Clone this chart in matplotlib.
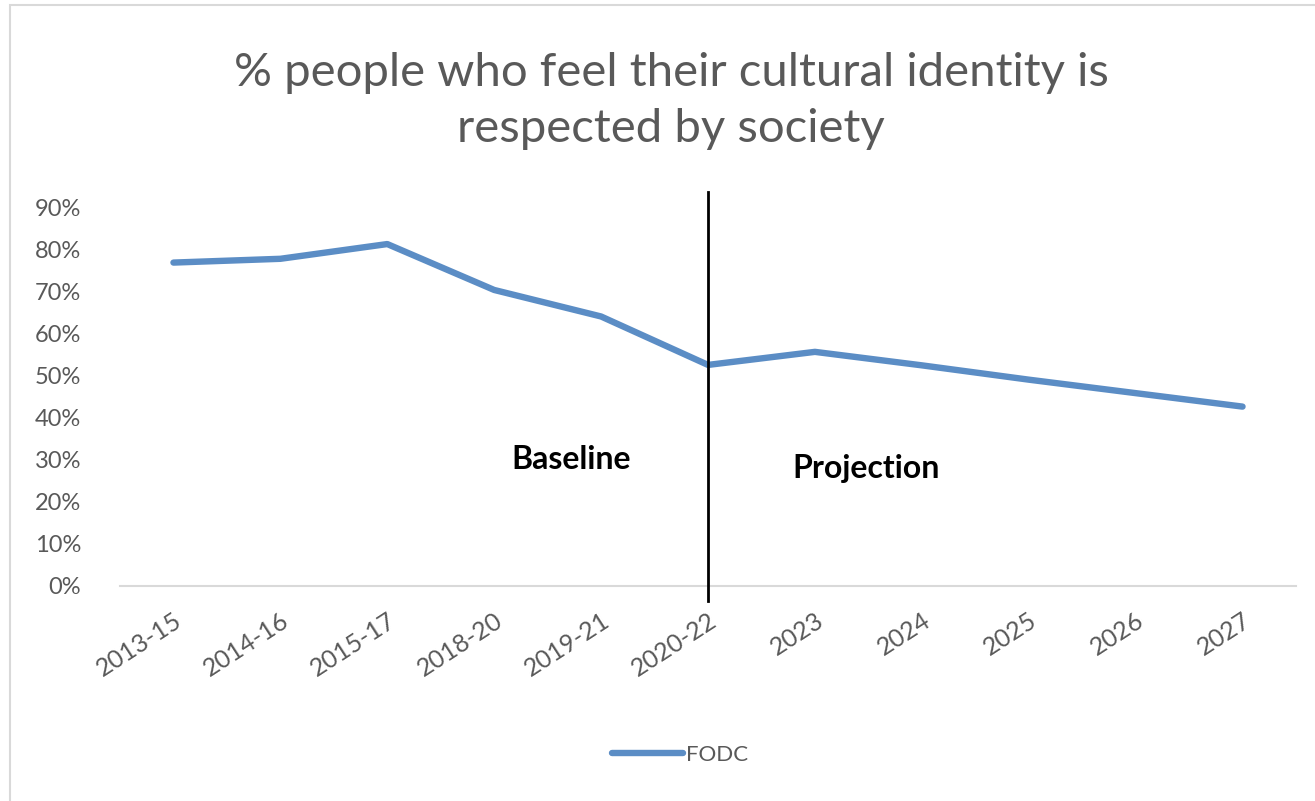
import matplotlib
matplotlib.use("Agg")
import matplotlib.pyplot as plt
from matplotlib.patches import Rectangle

categories = ["2013-15", "2014-16", "2015-17", "2018-20", "2019-21", "2020-22",
              "2023", "2024", "2025", "2026", "2027"]
fodc = [0.768, 0.777, 0.812, 0.703, 0.640, 0.525, 0.556, 0.524, 0.490, 0.458, 0.426]
yticks = [0.0, 0.1, 0.2, 0.3, 0.4, 0.5, 0.6, 0.7, 0.8, 0.9]
ytick_labels = ["0%", "10%", "20%", "30%", "40%", "50%", "60%", "70%", "80%", "90%"]
divider_category = "2020-22"

plt.rcParams['font.family'] = ['Lato', 'DejaVu Sans']
grey = "#595959"
blue = "#5B8DC5"

fig = plt.figure(figsize=(13.15, 8.01), dpi=100)
fig.patch.set_facecolor("white")
fig.patches.append(Rectangle((10/1315, -0.01), 1.02, 1 - 5/801 + 0.01, transform=fig.transFigure,
                             fill=False, edgecolor="#d9d9d9", linewidth=1.5))

ax = fig.add_axes([120/1315, 1 - 586/801, (1296 - 120)/1315, (586 - 207)/801])
x = list(range(len(categories)))
ax.plot(x, fodc, color=blue, linewidth=4.6, solid_capstyle="round", solid_joinstyle="round",
        label="FODC", zorder=3)

ax.set_xlim(-0.5, len(categories) - 0.5)
ax.set_ylim(0, 0.9)
ax.set_yticks(yticks)
ax.set_yticklabels(ytick_labels, fontsize=17, color=grey)
ax.set_xticks(x)
ax.set_xticklabels(categories, fontsize=18, color=grey, rotation=33, ha="right",
                   rotation_mode="anchor")
ax.tick_params(length=0, axis="y", pad=28)
ax.tick_params(length=0, axis="x", pad=16)
for s in ["top", "right", "left"]:
    ax.spines[s].set_visible(False)
ax.spines["bottom"].set_color("#d9d9d9")
ax.spines["bottom"].set_linewidth(1.5)

xd = categories.index(divider_category)
ax.plot([xd, xd], [-0.035, 0.935], color="black", linewidth=2, clip_on=False, zorder=4)

ax.text(3.72, 0.30, "Baseline", fontsize=23, fontweight="bold", ha="center", va="center", color="black")
ax.text(6.48, 0.28, "Projection", fontsize=23, fontweight="bold", ha="center", va="center", color="black")

fig.text(671/1315, 1 - 101/801, "% people who feel their cultural identity is\nrespected by society",
         fontsize=34, color=grey, ha="center", va="center", linespacing=1.4)

leg = ax.legend(loc="center", bbox_to_anchor=(680/1315, 1 - 755/801),
                bbox_transform=fig.transFigure, frameon=False, fontsize=16,
                handlelength=3.2, handletextpad=0.1)
for t in leg.get_texts():
    t.set_color(grey)

fig.savefig("out.png", dpi=100, facecolor="white")
